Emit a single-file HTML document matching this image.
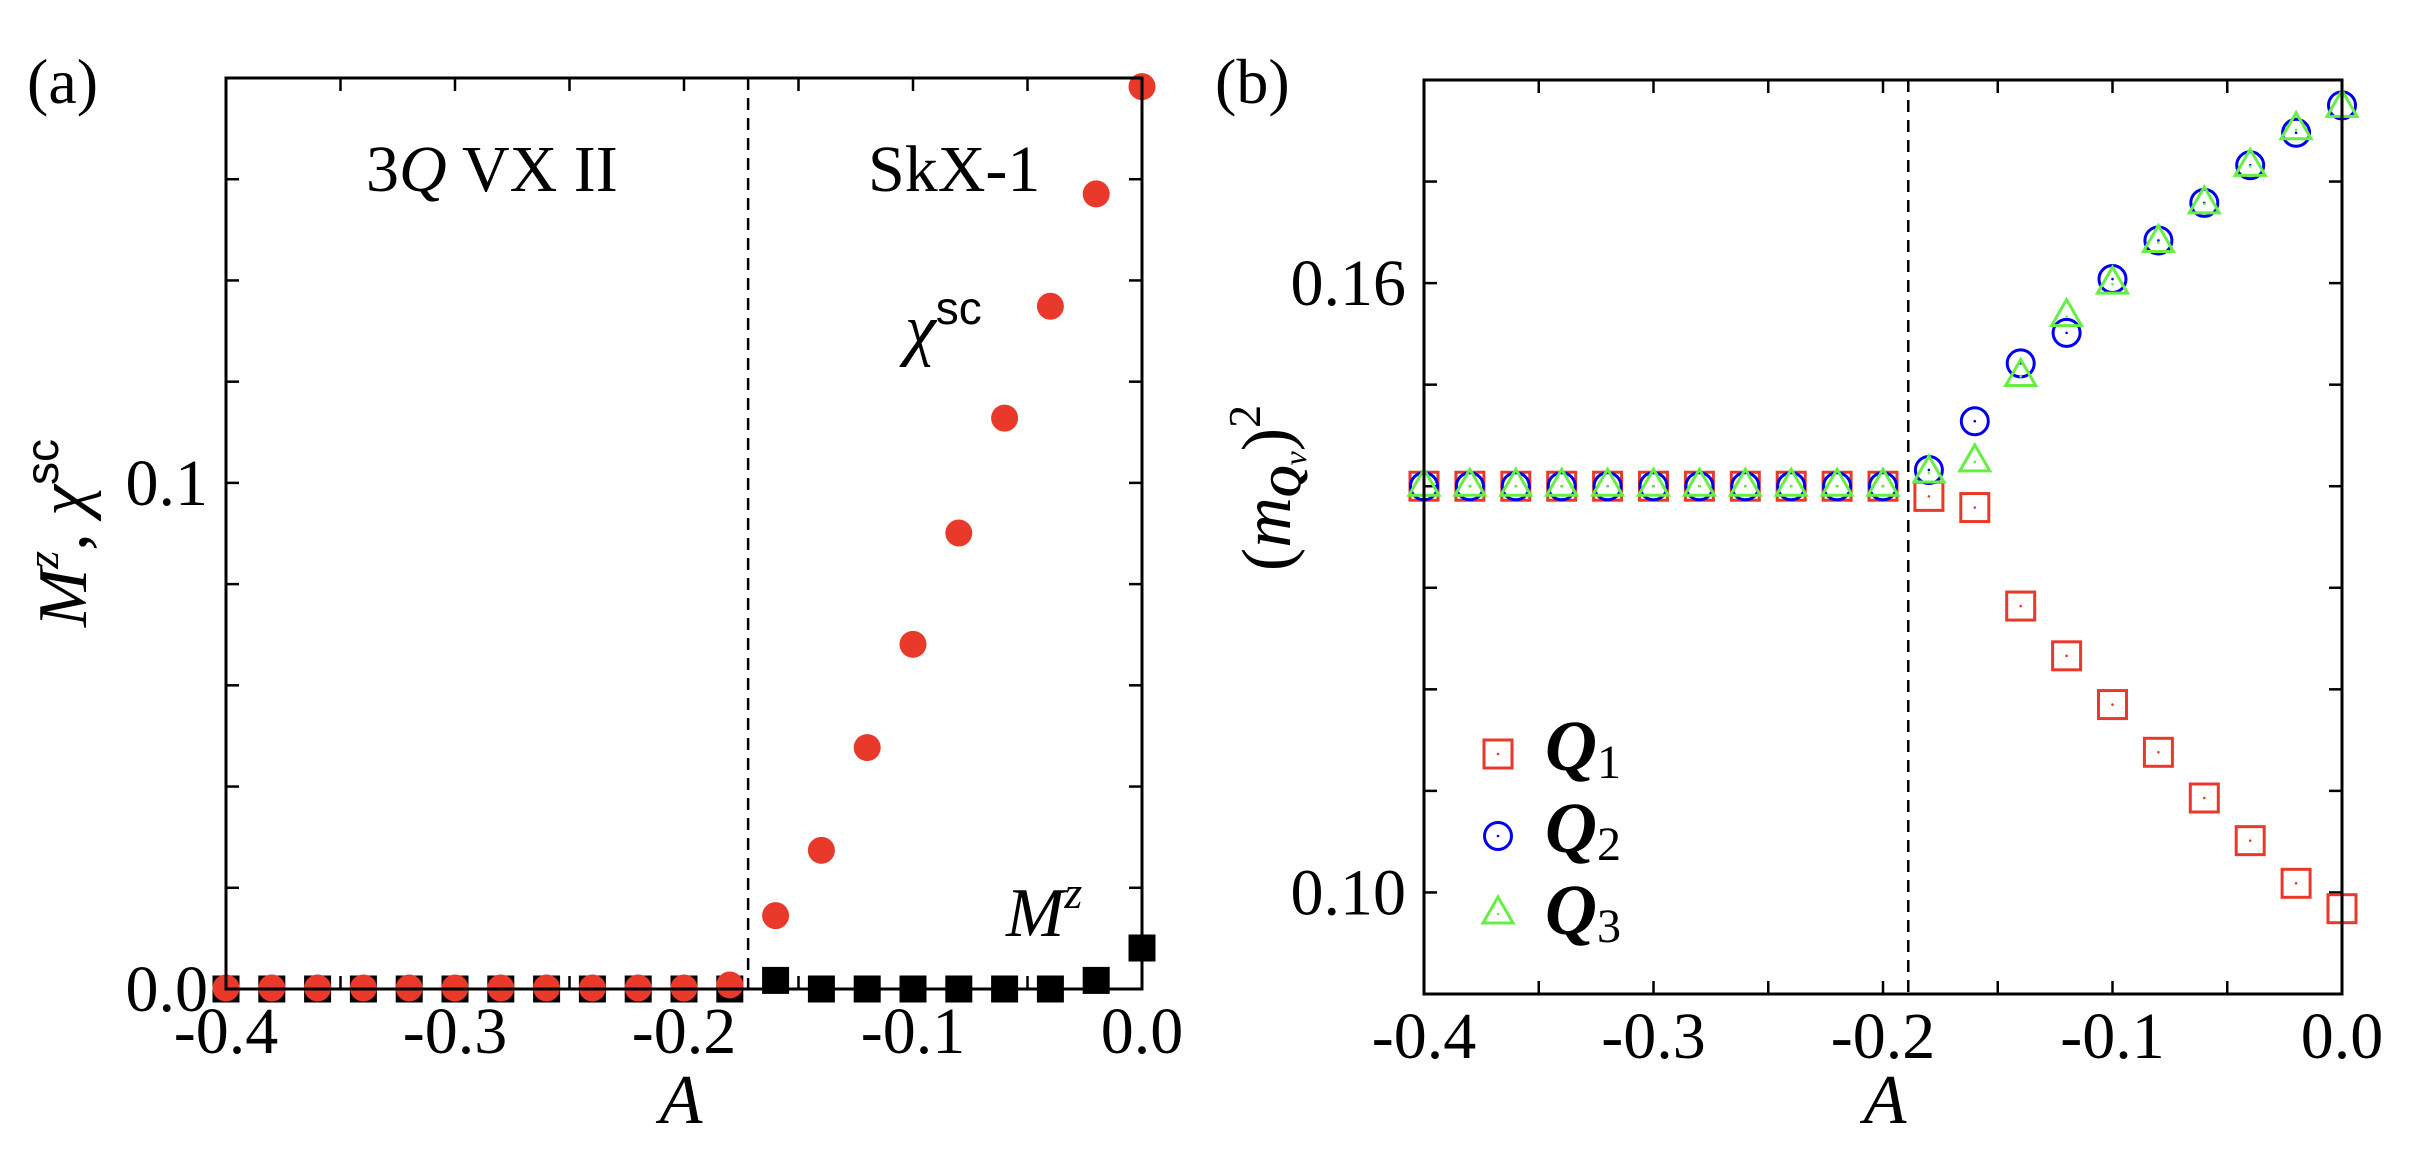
<!DOCTYPE html>
<html><head><meta charset="utf-8">
<style>
html,body{margin:0;padding:0;background:#fff;}
svg{display:block;font-family:"Liberation Serif",serif;}
</style></head>
<body>
<svg id="fig" width="2430" height="1151" viewBox="0 0 2430 1151" xmlns="http://www.w3.org/2000/svg">
<g id="pa"></g>
<g id="pb"></g>
</svg>
<script>
// ---- data ----
const aValues = [-0.40,-0.38,-0.36,-0.34,-0.32,-0.30,-0.28,-0.26,-0.24,-0.22,-0.20,-0.18,-0.16,-0.14,-0.12,-0.10,-0.08,-0.06,-0.04,-0.02,0.00];
const chiSC = [0.0002,0.0002,0.0002,0.0002,0.0002,0.0002,0.0002,0.0002,0.0002,0.0002,0.0002,0.0008,0.0145,0.0274,0.0477,0.0681,0.0901,0.1128,0.1349,0.1571,0.1783];
const magZ = [0,0,0,0,0,0,0,0,0,0,0,0,0.0017,0,0,0,0,0,0,0.0017,0.0081];
const q1Values = [0.1400,0.1400,0.1400,0.1400,0.1400,0.1400,0.1400,0.1400,0.1400,0.1400,0.1400,0.1390,0.1379,0.1282,0.1233,0.1185,0.1138,0.1093,0.1051,0.1009,0.0984];
const q2Values = [0.1400,0.1400,0.1400,0.1400,0.1400,0.1400,0.1400,0.1400,0.1400,0.1400,0.1400,0.1416,0.1464,0.1521,0.1551,0.1604,0.1642,0.1679,0.1716,0.1748,0.1775];
const q3Values = [0.1400,0.1400,0.1400,0.1400,0.1400,0.1400,0.1400,0.1400,0.1400,0.1400,0.1400,0.1413,0.1424,0.1508,0.1567,0.1599,0.1640,0.1678,0.1715,0.1751,0.1773];
const xTickLabels = ["-0.4","-0.3","-0.2","-0.1","0.0"];
const xTickVals = [-0.4,-0.3,-0.2,-0.1,0.0];
const aYTickLabels = ["0.0","0.1"];
const aYTickVals = [0.0,0.1];
const bYTickLabels = ["0.10","0.16"];
const bYTickVals = [0.10,0.16];
const aBoundary = -0.172;
const bBoundary = -0.189;

const NS="http://www.w3.org/2000/svg";
function mk(parent,tag,attrs){const e=document.createElementNS(NS,tag);for(const k in attrs)e.setAttribute(k,attrs[k]);parent.appendChild(e);return e;}

const RED="#e8392a",BLUE="#0000ee",GREEN="#66ee44";

function frame(g,L,R,T,B,xs,ys,yMin,yMax,yStep,yTickVals,yTickLabels,boundary){
  // ticks x
  for(let v=-0.4;v<=0.0001;v+=0.05){
    const x=xs(v);
    let t=mk(g,'line',{x1:x,x2:x,y1:B,y2:B-13,stroke:'#000','stroke-width':2.5});
    
    t=mk(g,'line',{x1:x,x2:x,y1:T,y2:T+13,stroke:'#000','stroke-width':2.5});
    
  }
  for(let v=yMin;v<=yMax+1e-9;v+=yStep){
    const y=ys(v);
    let t=mk(g,'line',{x1:L,x2:L+13,y1:y,y2:y,stroke:'#000','stroke-width':2.5});
    
    t=mk(g,'line',{x1:R,x2:R-13,y1:y,y2:y,stroke:'#000','stroke-width':2.5});
    
  }
  xTickVals.forEach((v,i)=>{
    const t=mk(g,'text',{x:xs(v),y:B+64,'font-size':66,'text-anchor':'middle'});
    t.textContent=xTickLabels[i];
    
  });
  yTickVals.forEach((v,i)=>{
    const t=mk(g,'text',{x:L-18,y:ys(v)+22,'font-size':66,'text-anchor':'end'});
    t.textContent=yTickLabels[i];
    
  });
  const d=mk(g,'line',{x1:xs(boundary),x2:xs(boundary),y1:T,y2:B,stroke:'#000','stroke-width':2.5,'stroke-dasharray':'12 8'});
  
}
function border(g,L,R,T,B){
  const r=mk(g,'rect',{x:L,y:T,width:R-L,height:B-T,fill:'none',stroke:'#000','stroke-width':3});
  
}

// ---- panel a ----
(function(){
  const g=document.getElementById('pa');
  const L=226,R=1142,T=78,B=989,yMin=0,yMax=0.18;
  const xs=v=>L+(v+0.4)/0.4*(R-L);
  const ys=v=>B-(v-yMin)/(yMax-yMin)*(B-T);
  frame(g,L,R,T,B,xs,ys,0,0.18,0.02,aYTickVals,aYTickLabels,aBoundary);
  aValues.forEach((a,i)=>{
    const s=mk(g,'rect',{x:xs(a)-13.5,y:ys(magZ[i])-13.5,width:27,height:27,fill:'#000'});
    
  });
  aValues.forEach((a,i)=>{
    const c=mk(g,'circle',{cx:xs(a),cy:ys(chiSC[i]),r:13.5,fill:RED});
    
  });
  border(g,L,R,T,B);
  let t=mk(g,'text',{x:27,y:103,'font-size':64});t.textContent='(a)';
  
  t=mk(g,'text',{x:366,y:191,'font-size':66});
  t.innerHTML='3<tspan font-style="italic">Q</tspan> VX II';
  
  t=mk(g,'text',{x:868,y:191,'font-size':66});t.textContent='SkX-1';
  
  t=mk(g,'text',{x:905,y:352,'font-size':70,'font-style':'italic'});
  t.innerHTML='χ<tspan font-size="46" font-style="normal" dy="-28" font-family="Liberation Sans">sc</tspan>';
  
  t=mk(g,'text',{x:1006,y:936,'font-size':70,'font-style':'italic'});
  t.innerHTML='M<tspan font-size="46" dy="-28">z</tspan>';
  
  t=mk(g,'text',{x:681,y:1123,'font-size':70,'font-style':'italic','text-anchor':'middle'});t.textContent='A';
  
  t=mk(g,'text',{x:0,y:0,'font-size':70,'text-anchor':'middle',transform:'translate(86,533) rotate(-90)'});
  t.innerHTML='<tspan font-style="italic">M</tspan><tspan font-style="italic" font-size="46" dy="-28">z</tspan><tspan dy="28">, </tspan><tspan font-style="italic">χ</tspan><tspan font-size="46" dy="-28" font-family="Liberation Sans">sc</tspan>';
  
})();

// ---- panel b ----
(function(){
  const g=document.getElementById('pb');
  const L=1424,R=2342,T=80,B=994,yMin=0.09,yMax=0.18;
  const xs=v=>L+(v+0.4)/0.4*(R-L);
  const ys=v=>B-(v-yMin)/(yMax-yMin)*(B-T);
  frame(g,L,R,T,B,xs,ys,0.09,0.18,0.01,bYTickVals,bYTickLabels,bBoundary);
  function sq(x,y,name){const e=mk(g,'rect',{x:x-14,y:y-14,width:28,height:28,fill:'none',stroke:RED,'stroke-width':3});
    
    mk(g,'circle',{cx:x,cy:y,r:1.3,fill:RED});}
  function ci(x,y,name){const e=mk(g,'circle',{cx:x,cy:y,r:13.5,fill:'none',stroke:BLUE,'stroke-width':3});
    
    mk(g,'circle',{cx:x,cy:y,r:1.3,fill:BLUE});}
  function tr(x,y,name){const e=mk(g,'polygon',{points:`${x},${y-17} ${x+15},${y+9} ${x-15},${y+9}`,fill:'none',stroke:GREEN,'stroke-width':3});
    
    mk(g,'circle',{cx:x,cy:y,r:1.3,fill:GREEN});}
  aValues.forEach((a,i)=>sq(xs(a),ys(q1Values[i]),'q1-point'));
  aValues.forEach((a,i)=>ci(xs(a),ys(q2Values[i]),'q2-point'));
  aValues.forEach((a,i)=>tr(xs(a),ys(q3Values[i]),'q3-point'));
  border(g,L,R,T,B);
  // legend
  sq(1498,754,'legend-marker-q1');ci(1498,836,'legend-marker-q2');tr(1498,914,'legend-marker-q3');
  ['1','2','3'].forEach((n,i)=>{
    const t=mk(g,'text',{x:1545,y:770+i*82,'font-size':72,'font-weight':'bold','font-style':'italic'});
    t.innerHTML='Q<tspan font-size="48" font-weight="normal" font-style="normal" dy="8">'+n+'</tspan>';
    
  });
  let t=mk(g,'text',{x:1215,y:103,'font-size':64});t.textContent='(b)';
  
  t=mk(g,'text',{x:1885,y:1123,'font-size':70,'font-style':'italic','text-anchor':'middle'});t.textContent='A';
  
  t=mk(g,'text',{x:0,y:0,'font-size':70,'text-anchor':'middle',transform:'translate(1290,488) rotate(-90)'});
  t.innerHTML='(<tspan font-style="italic">m</tspan><tspan font-style="italic" font-weight="bold" font-size="44" dy="10">Q</tspan><tspan font-style="italic" font-size="32" dy="6">ν</tspan><tspan dy="-16">)</tspan><tspan font-size="46" dy="-30">2</tspan>';
  
})();
</script>
</body></html>
